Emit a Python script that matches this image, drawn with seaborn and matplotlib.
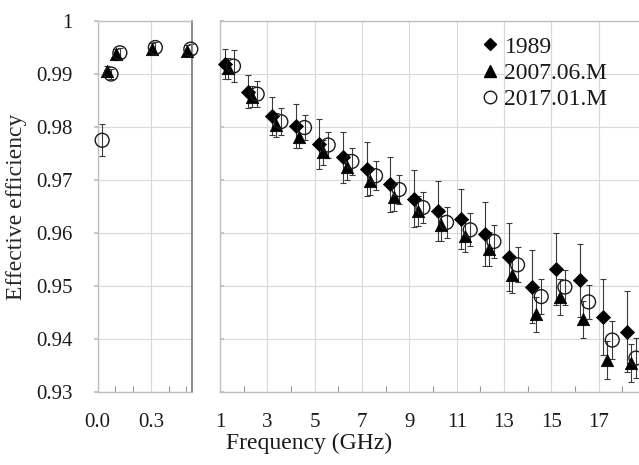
import numpy as np
import pandas as pd
import matplotlib
matplotlib.use('Agg')
import matplotlib.pyplot as plt
import seaborn as sns
from matplotlib.ticker import FuncFormatter, MultipleLocator, FixedLocator

# --- data ---
freq_ghz = [1, 2, 3, 4, 5, 6, 7, 8, 9, 10, 11, 12, 13, 14, 15, 16, 17, 18]

eff_1989 = [0.9919, 0.9867, 0.9821, 0.9802, 0.9768, 0.9743, 0.9720, 0.9692, 0.9665,
            0.9642, 0.9626, 0.9598, 0.9555, 0.9499, 0.9532, 0.9511, 0.9441, 0.9414]
err_1989 = [0.0028, 0.0031, 0.0036, 0.0041, 0.0047, 0.0048, 0.0051, 0.0052, 0.0054,
            0.0057, 0.0057, 0.0060, 0.0064, 0.0068, 0.0068, 0.0069, 0.0072, 0.0077]

eff_2007 = [0.9911, 0.9857, 0.9804, 0.9782, 0.9752, 0.9725, 0.9698, 0.9668, 0.9642,
            0.9615, 0.9594, 0.9569, 0.9521, 0.9447, 0.9480, 0.9437, 0.9360, 0.9355]
err_2007 = [0.0020, 0.0020, 0.0022, 0.0022, 0.0024, 0.0025, 0.0026, 0.0027, 0.0028,
            0.0030, 0.0030, 0.0032, 0.0034, 0.0033, 0.0034, 0.0035, 0.0036, 0.0036]

eff_2017 = [0.9915, 0.9862, 0.9810, 0.9799, 0.9766, 0.9735, 0.9708, 0.9682, 0.9648,
            0.9620, 0.9606, 0.9584, 0.9540, 0.9480, 0.9498, 0.9470, 0.9398, 0.9364]
err_2017 = [0.0030, 0.0025, 0.0025, 0.0024, 0.0025, 0.0026, 0.0027, 0.0028, 0.0029,
            0.0030, 0.0031, 0.0032, 0.0033, 0.0033, 0.0033, 0.0032, 0.0036, 0.0037]

# low frequency part (left panel), only the two recent campaigns
low_freq_2007 = [0.05, 0.1, 0.3, 0.5]
low_eff_2007 = [0.9905, 0.9937, 0.9948, 0.9944]
low_err_2007 = [0.0010, 0.0010, 0.0010, 0.0010]

low_freq_2017 = [0.0, 0.05, 0.1, 0.3, 0.5]
low_eff_2017 = [0.9775, 0.9900, 0.9940, 0.9950, 0.9947]
low_err_2017 = [0.0030, 0.0010, 0.0010, 0.0010, 0.0010]

series_names = ['1989', '2007.06.M', '2017.01.M']

# --- style ---
sns.set_theme(style='white')
plt.rcParams['font.family'] = ['Liberation Serif', 'DejaVu Serif']
plt.rcParams['text.color'] = '#1a1a1a'
plt.rcParams['xtick.color'] = '#1a1a1a'
plt.rcParams['ytick.color'] = '#1a1a1a'

# dodge offsets so the three campaigns do not sit on top of each other
dodge_high = {'1989': 0.2, '2007.06.M': 0.35, '2017.01.M': 0.57}
dodge_low = {'2007.06.M': 0.005, '2017.01.M': 0.025}
marker_style = {
    '1989': dict(marker='D', s=52, color='black', edgecolor='black', linewidth=0.5),
    '2007.06.M': dict(marker='^', s=80, color='black', edgecolor='black', linewidth=0.5),
    '2017.01.M': dict(marker='o', s=100, facecolor='none', edgecolor='#1a1a1a', linewidth=1.0),
}

high = pd.concat([
    pd.DataFrame({'freq': freq_ghz, 'eff': eff_1989, 'err': err_1989, 'series': '1989'}),
    pd.DataFrame({'freq': freq_ghz, 'eff': eff_2007, 'err': err_2007, 'series': '2007.06.M'}),
    pd.DataFrame({'freq': freq_ghz, 'eff': eff_2017, 'err': err_2017, 'series': '2017.01.M'}),
], ignore_index=True)
high['x'] = high['freq'] + high['series'].map(dodge_high)

low = pd.concat([
    pd.DataFrame({'freq': low_freq_2007, 'eff': low_eff_2007, 'err': low_err_2007, 'series': '2007.06.M'}),
    pd.DataFrame({'freq': low_freq_2017, 'eff': low_eff_2017, 'err': low_err_2017, 'series': '2017.01.M'}),
], ignore_index=True)
low['x'] = low['freq'] + low['series'].map(dodge_low)

fig = plt.figure(figsize=(6.39, 4.65), dpi=100)
ax_low = fig.add_axes([0.1529, 0.157, 0.1471, 0.7978])
ax_high = fig.add_axes([0.3443, 0.157, 0.6557, 0.7978])

grid_col = '#d9d9d9'
spine_col = '#bfbfbf'


def draw(ax, df):
    for name in series_names:
        sub = df[df['series'] == name]
        if sub.empty:
            continue
        ax.errorbar(sub['x'], sub['eff'], yerr=sub['err'], fmt='none', ecolor='#3a3a3a',
                    elinewidth=0.8, capsize=2.5, capthick=0.8, zorder=2, clip_on=False)
        sns.scatterplot(data=sub, x='x', y='eff', ax=ax, label=name, zorder=3,
                        clip_on=False, legend=False, **marker_style[name])


draw(ax_low, low)
draw(ax_high, high)

for ax in (ax_low, ax_high):
    ax.set_ylim(0.93, 1.0)
    ax.yaxis.set_major_locator(MultipleLocator(0.01))
    ax.grid(True, which='major', color=grid_col, linewidth=0.8)
    ax.set_axisbelow(True)
    for sp in ax.spines.values():
        sp.set_color(spine_col)
        sp.set_linewidth(1.0)
    ax.set_xlabel('')
    ax.set_ylabel('')
    ax.tick_params(axis='x', which='major', length=0, labelsize=15, pad=15)
    ax.tick_params(axis='x', which='minor', direction='in', length=4, width=0.8, color='#999999',
                   bottom=True)

# left panel
ax_low.set_xlim(0.0, 0.53)
ax_low.xaxis.set_major_locator(FixedLocator([0.0, 0.3]))
ax_low.xaxis.set_minor_locator(FixedLocator([0.1, 0.2, 0.4, 0.5]))
ax_low.xaxis.set_major_formatter(FuncFormatter(lambda v, p: f'{v:.1f}'))
ax_low.yaxis.set_major_formatter(FuncFormatter(lambda v, p: f'{round(v, 2):g}'))
ax_low.tick_params(axis='y', which='major', direction='out', length=3, color=spine_col,
                   labelsize=15, pad=15, left=True)
ax_low.spines['right'].set_color('#7f7f7f')
ax_low.spines['right'].set_linewidth(1.3)
ax_low.set_ylabel('Effective efficiency', fontsize=17)
ax_low.yaxis.set_label_coords(-0.75, 0.5)

# right panel
ax_high.set_xlim(1.0, 18.7)
ax_high.xaxis.set_major_locator(FixedLocator(list(range(1, 19, 2))))
ax_high.xaxis.set_minor_locator(FixedLocator(list(range(2, 19, 2))))
ax_high.xaxis.set_major_formatter(FuncFormatter(lambda v, p: f'{int(v)}'))
ax_high.tick_params(axis='y', which='major', length=3, direction='in', color=spine_col,
                    labelleft=False, left=True)
ax_high.spines['right'].set_visible(False)

handles = [
    plt.Line2D([], [], linestyle='none', marker='D', markersize=6.5, color='black'),
    plt.Line2D([], [], linestyle='none', marker='^', markersize=8.5, color='black'),
    plt.Line2D([], [], linestyle='none', marker='o', markersize=9, markerfacecolor='none',
               markeredgecolor='#1a1a1a', markeredgewidth=1.0),
]
ax_high.legend(handles, series_names, loc='upper left', bbox_to_anchor=(0.60, 0.985),
               frameon=False, fontsize=17, handlelength=0.8, handletextpad=0.2,
               labelspacing=0.2, borderaxespad=0.0)

fig.text(0.4836, 0.047, 'Frequency (GHz)', ha='center', va='center', fontsize=17)

fig.savefig('out.png', dpi=100)
